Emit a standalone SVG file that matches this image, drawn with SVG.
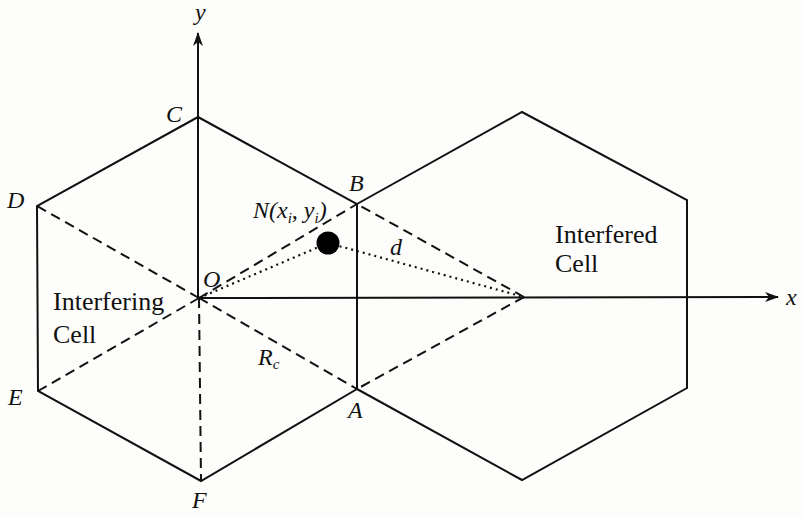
<svg xmlns="http://www.w3.org/2000/svg" width="804" height="517" viewBox="0 0 804 517">
<defs>
<marker id="arr" viewBox="0 0 14 10" refX="13" refY="5" markerWidth="14" markerHeight="10" markerUnits="userSpaceOnUse" orient="auto">
<path d="M0,0 L14,5 L0,10 L4,5 Z" fill="#111"/>
</marker>
<style>
.solid{fill:none;stroke:#111;stroke-width:2;stroke-linejoin:miter}
.dash{fill:none;stroke:#111;stroke-width:2;stroke-dasharray:10 6}
.dot{fill:none;stroke:#111;stroke-width:2.2;stroke-dasharray:2 4}
.lbl{font-family:"Liberation Serif",serif;font-style:italic;font-size:24px;fill:#111}
.txt{font-family:"Liberation Serif",serif;font-size:26px;fill:#111}
</style>
</defs>
<rect width="804" height="517" fill="#fdfdfb"/>
<g id="interfering-cell">
<polygon class="solid" points="198,117 357,204 357,389 201,481 38,391 37,206"/>
<text class="txt" x="53" y="310">Interfering</text>
<text class="txt" x="53" y="343">Cell</text>
</g>
<g id="interfered-cell">
<polyline class="solid" points="357,204 522,112 687,200 687,388 522,480 357,389"/>
<text class="txt" x="555" y="243">Interfered</text>
<text class="txt" x="555" y="272">Cell</text>
</g>
<g id="connectors">
<line class="solid" x1="199" y1="298" x2="778" y2="297" marker-end="url(#arr)"/>
<line class="solid" x1="198" y1="298" x2="198" y2="33" marker-end="url(#arr)"/>
<line class="dash" x1="199" y1="298" x2="357" y2="204"/>
<line class="dash" x1="199" y1="298" x2="357" y2="389"/>
<line class="dash" x1="199" y1="298" x2="37" y2="206"/>
<line class="dash" x1="199" y1="298" x2="38" y2="391"/>
<line class="dash" x1="199" y1="298" x2="201" y2="481"/>
<line class="dash" x1="524" y1="297" x2="357" y2="204"/>
<line class="dash" x1="524" y1="297" x2="357" y2="389"/>
<line class="dot" x1="199" y1="298" x2="328" y2="243"/>
<line class="dot" x1="328" y1="243" x2="524" y2="297"/>
</g>
<g id="node-N">
<circle cx="328" cy="243" r="11.5" fill="#000"/>
<text class="lbl" x="253" y="218">N(x<tspan font-size="15" dy="5">i</tspan><tspan dy="-5">, y</tspan><tspan font-size="15" dy="5">i</tspan><tspan dy="-5">)</tspan></text>
</g>
<g id="labels">
<text class="lbl" x="195" y="20">y</text>
<text class="lbl" x="786" y="305">x</text>
<text class="lbl" x="166" y="122">C</text>
<text class="lbl" x="349" y="191">B</text>
<text class="lbl" x="7" y="208">D</text>
<text class="lbl" x="8" y="405">E</text>
<text class="lbl" x="192" y="508">F</text>
<text class="lbl" x="348" y="418">A</text>
<text class="lbl" x="203" y="287">O</text>
<text class="lbl" x="390" y="255">d</text>
<text class="lbl" x="258" y="365">R<tspan font-size="15" dy="4">c</tspan></text>
</g>
</svg>
